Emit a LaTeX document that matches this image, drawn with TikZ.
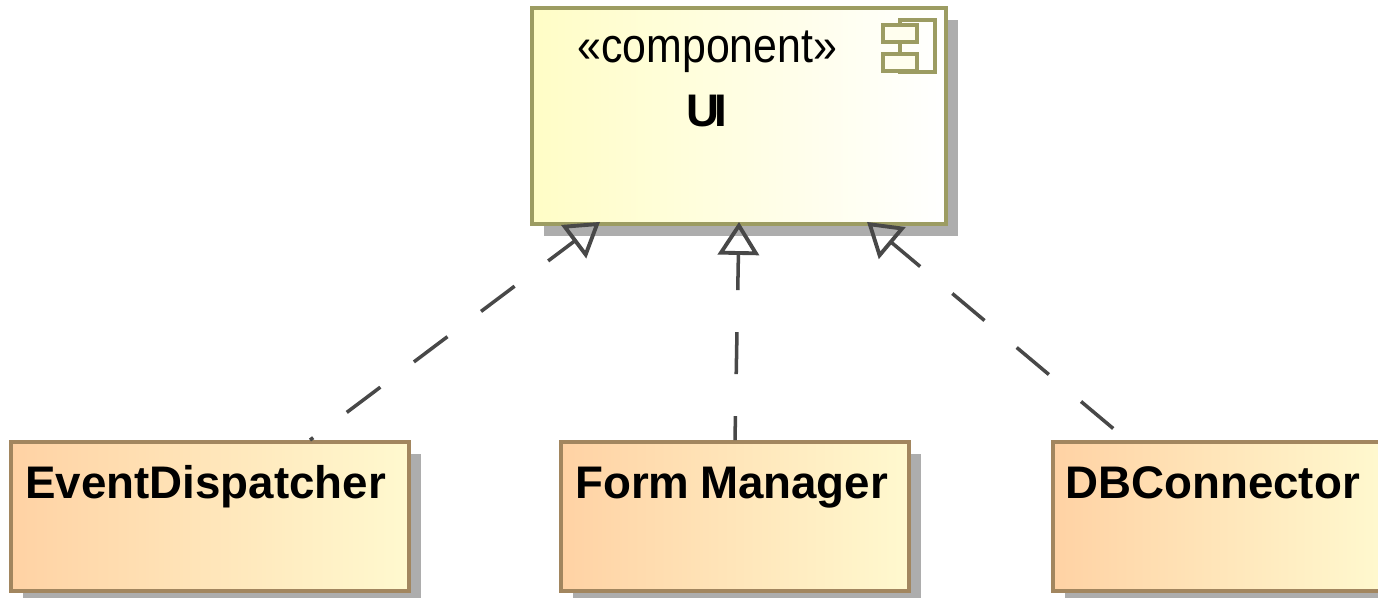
\documentclass[tikz,border=0pt]{standalone}
\usepackage{fontspec}
\setmainfont{Liberation Sans}
\usepackage{xcolor}
\usetikzlibrary{shadows, arrows.meta}
\definecolor{compedge}{HTML}{9C9C62}
\definecolor{compfill}{HTML}{FFFDC6}
\definecolor{classedge}{HTML}{A2865F}
\definecolor{classleft}{HTML}{FFD2A4}
\definecolor{classright}{HTML}{FFF9CF}
\definecolor{realizeline}{HTML}{484848}

\begin{document}
\begin{tikzpicture}
	\tikzstyle{boxshadow} = [drop shadow={shadow xshift=0.24cm,shadow yshift=-0.24cm,fill=black!32,opacity=1}]
	\tikzstyle{comp} = [rectangle,draw=compedge,line width=2.2pt,left color=compfill,right color=white,boxshadow]
	\tikzstyle{class} = [rectangle,draw=classedge,line width=2.2pt,left color=classleft,right color=classright,boxshadow]
	\tikzstyle{title} = [anchor=base west,inner sep=0pt,font=\fontsize{26}{30}\selectfont\bfseries]
	\tikzstyle{stereo} = [anchor=base west,inner sep=0pt,font=\fontsize{24.4}{28}\selectfont]
	\tikzstyle{icon} = [draw=compedge,line width=2.2pt]
	\tikzstyle{realize} = [draw=realizeline,line width=2pt,dash pattern=on 0.84cm off 0.84cm,-{Triangle[open,length=0.66cm,width=0.82cm,line width=2.2pt,fill=none]}]
	\clip (0,0) rectangle (27.56,11.94);
	\node[comp,minimum width=8.28cm,minimum height=4.32cm] (ui) at (14.78,9.62) {};
	\node[class,minimum width=7.96cm,minimum height=2.98cm] (ed) at (4.2,1.61) {};
	\node[class,minimum width=6.96cm,minimum height=2.98cm] (fm) at (14.7,1.61) {};
	\node[class,minimum width=6.64cm,minimum height=2.98cm] (db) at (24.38,1.61) {};
	\node[stereo] (uistereo) at (11.54,10.68) {\scalebox{1}[1.14]{«component»}};
	\node[title] (uititle) at (13.72,9.4) {U\kern-3pt I};
	\node[title] (edtitle) at (0.5,1.98) {EventDispatcher};
	\node[title] (fmtitle) at (11.5,1.98) {Form\kern6pt Manager};
	\node[title] (dbtitle) at (21.3,1.98) {DBConnector};
	% component icon
	\draw[icon] (18,11.54) rectangle (18.7,10.5);
	\draw[icon,fill=compfill!30] (17.66,11.44) rectangle (18.34,11.1);
	\draw[icon,fill=compfill!30] (17.66,10.86) rectangle (18.34,10.52);
	\draw[realize,dash phase=0.76cm] ([xshift=2cm]ed.north) -- ([xshift=-2.78cm,yshift=0.08cm]ui.south);
	\draw[realize,dash phase=0.36cm] (fm.north) -- ([yshift=0.08cm]ui.south);
	\draw[realize,dash phase=1.32cm] ([xshift=-1.84cm]db.north) -- ([xshift=2.56cm,yshift=0.08cm]ui.south);
\end{tikzpicture}
\end{document}
